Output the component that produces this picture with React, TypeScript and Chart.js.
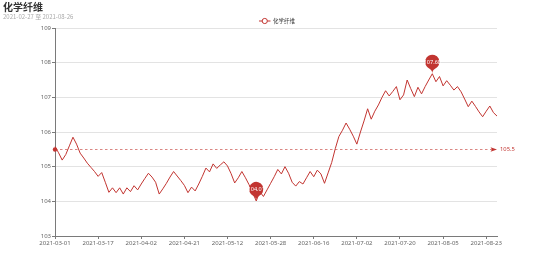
import React, { useEffect, useRef } from 'react';
import { Chart, registerables } from 'chart.js';

Chart.register(...registerables);

const TITLE = '化学纤维';
const SUBTITLE = '2021-02-27 至 2021-08-26';
const SERIES_NAME = '化学纤维';

const dates: string[] = [
  '2021-03-01', '2021-03-02', '2021-03-03', '2021-03-04', '2021-03-05',
  '2021-03-08', '2021-03-09', '2021-03-10', '2021-03-11', '2021-03-12',
  '2021-03-15', '2021-03-16', '2021-03-17', '2021-03-18', '2021-03-19',
  '2021-03-22', '2021-03-23', '2021-03-24', '2021-03-25', '2021-03-26',
  '2021-03-29', '2021-03-30', '2021-03-31', '2021-04-01', '2021-04-02',
  '2021-04-06', '2021-04-07', '2021-04-08', '2021-04-09',
  '2021-04-12', '2021-04-13', '2021-04-14', '2021-04-15', '2021-04-16',
  '2021-04-19', '2021-04-20', '2021-04-21', '2021-04-22', '2021-04-23',
  '2021-04-26', '2021-04-27', '2021-04-28', '2021-04-29', '2021-04-30',
  '2021-05-06', '2021-05-07',
  '2021-05-10', '2021-05-11', '2021-05-12', '2021-05-13', '2021-05-14',
  '2021-05-17', '2021-05-18', '2021-05-19', '2021-05-20', '2021-05-21',
  '2021-05-24', '2021-05-25', '2021-05-26', '2021-05-27', '2021-05-28',
  '2021-05-31', '2021-06-01', '2021-06-02', '2021-06-03', '2021-06-04',
  '2021-06-07', '2021-06-08', '2021-06-09', '2021-06-10', '2021-06-11',
  '2021-06-15', '2021-06-16', '2021-06-17', '2021-06-18',
  '2021-06-21', '2021-06-22', '2021-06-23', '2021-06-24', '2021-06-25',
  '2021-06-28', '2021-06-29', '2021-06-30', '2021-07-01', '2021-07-02',
  '2021-07-05', '2021-07-06', '2021-07-07', '2021-07-08', '2021-07-09',
  '2021-07-12', '2021-07-13', '2021-07-14', '2021-07-15', '2021-07-16',
  '2021-07-19', '2021-07-20', '2021-07-21', '2021-07-22', '2021-07-23',
  '2021-07-26', '2021-07-27', '2021-07-28', '2021-07-29', '2021-07-30',
  '2021-08-02', '2021-08-03', '2021-08-04', '2021-08-05', '2021-08-06',
  '2021-08-09', '2021-08-10', '2021-08-11', '2021-08-12', '2021-08-13',
  '2021-08-16', '2021-08-17', '2021-08-18', '2021-08-19', '2021-08-20',
  '2021-08-23', '2021-08-24', '2021-08-25', '2021-08-26',
];

const values: number[] = [
  105.58, 105.40, 105.19, 105.35, 105.60, 105.85, 105.65, 105.39, 105.25, 105.10,
  104.98, 104.86, 104.72, 104.83, 104.55, 104.26, 104.39, 104.25, 104.39, 104.21,
  104.39, 104.28, 104.45, 104.33, 104.50, 104.66, 104.81, 104.70, 104.55, 104.21,
  104.36, 104.52, 104.70, 104.86, 104.73, 104.60, 104.46, 104.25, 104.41, 104.30,
  104.50, 104.72, 104.96, 104.85, 105.08, 104.95, 105.05, 105.14, 105.02, 104.80,
  104.53, 104.68, 104.86, 104.68, 104.48, 104.25, 104.01, 104.28, 104.14, 104.33,
  104.52, 104.71, 104.92, 104.79, 105.00, 104.81, 104.55, 104.44, 104.57, 104.50,
  104.68, 104.86, 104.71, 104.90, 104.79, 104.52, 104.82, 105.12, 105.52, 105.87,
  106.05, 106.26, 106.08, 105.88, 105.65, 106.00, 106.32, 106.67, 106.37, 106.60,
  106.78, 107.00, 107.19, 107.04, 107.17, 107.31, 106.93, 107.07, 107.50, 107.25,
  107.02, 107.29, 107.10, 107.31, 107.50, 107.68, 107.45, 107.60, 107.33, 107.48,
  107.35, 107.21, 107.31, 107.16, 106.95, 106.73, 106.89, 106.74, 106.58, 106.44,
  106.60, 106.75, 106.56, 106.46,
];

const Y_MIN = 103;
const Y_MAX = 109;
const Y_STEP = 1;
const LABEL_EVERY = 12;

const RED = '#c23531';
const AXIS = '#7a7a7a';
const GRID = '#e3e3e3';
const LABEL = '#666666';
const FAMILY = '"Noto Sans", "Noto Sans CJK SC", sans-serif';
const CJK = '"Noto Sans CJK SC", "Noto Sans", sans-serif';

function drawPin(ctx: CanvasRenderingContext2D, x: number, tipY: number, r: number, h: number) {
  const dy = (r * r) / (h - r);
  const cy = tipY - h + r + dy;
  const angle = Math.asin(dy / r);
  const dx = Math.cos(angle) * r;
  const tanX = Math.sin(angle);
  const tanY = Math.cos(angle);
  const cpLen = r * 0.6;
  const cpLen2 = r * 0.7;
  ctx.beginPath();
  ctx.moveTo(x - dx, cy + dy);
  ctx.arc(x, cy, r, Math.PI - angle, Math.PI * 2 + angle);
  ctx.bezierCurveTo(x + dx - tanX * cpLen, cy + dy + tanY * cpLen, x, tipY - cpLen2, x, tipY);
  ctx.bezierCurveTo(x, tipY - cpLen2, x - dx + tanX * cpLen, cy + dy + tanY * cpLen, x - dx, cy + dy);
  ctx.closePath();
  ctx.fill();
}

const decor = {
  id: 'decor',
  afterDatasetsDraw(chart: any) {
    const { ctx, chartArea } = chart;
    const xs = chart.scales.x;
    const ys = chart.scales.y;
    const avg = values.reduce((a, b) => a + b, 0) / values.length;
    const yy = Math.round(ys.getPixelForValue(avg)) + 0.5;
    ctx.save();
    // average mark line
    ctx.strokeStyle = RED;
    ctx.globalAlpha = 0.6;
    ctx.lineWidth = 1;
    ctx.setLineDash([2.5, 2.5]);
    ctx.beginPath();
    ctx.moveTo(chartArea.left, yy);
    ctx.lineTo(chartArea.right - 4, yy);
    ctx.stroke();
    ctx.setLineDash([]);
    ctx.globalAlpha = 1;
    ctx.fillStyle = RED;
    ctx.beginPath();
    ctx.arc(chartArea.left, yy, 2.2, 0, Math.PI * 2);
    ctx.fill();
    const tip = chartArea.right;
    ctx.beginPath();
    ctx.moveTo(tip, yy);
    ctx.lineTo(tip - 6.5, yy - 2.3);
    ctx.lineTo(tip - 5, yy);
    ctx.lineTo(tip - 6.5, yy + 2.3);
    ctx.closePath();
    ctx.fill();
    ctx.font = `5.8px ${FAMILY}`;
    ctx.textAlign = 'left';
    ctx.textBaseline = 'middle';
    ctx.fillText(avg.toFixed(1), tip + 3, yy);

    // max / min pins
    let maxI = 0;
    let minI = 0;
    values.forEach((v, i) => {
      if (v > values[maxI]) maxI = i;
      if (v < values[minI]) minI = i;
    });
    [maxI, minI].forEach((i) => {
      const px = xs.getPixelForValue(i);
      const py = ys.getPixelForValue(values[i]);
      ctx.fillStyle = RED;
      drawPin(ctx, px, py, 7.2, 22.5);
      ctx.fillStyle = '#fff';
      ctx.font = `5.5px ${FAMILY}`;
      ctx.textAlign = 'center';
      ctx.textBaseline = 'middle';
      ctx.fillText(values[i].toFixed(2), px, py - 11.5);
    });
    ctx.restore();
  },
  afterDraw(chart: any) {
    const { ctx } = chart;
    ctx.save();
    // title
    ctx.fillStyle = '#333';
    ctx.font = `bold 10px ${CJK}`;
    ctx.textAlign = 'left';
    ctx.textBaseline = 'middle';
    ctx.fillText(TITLE, 3, 7);
    // subtitle
    ctx.fillStyle = '#aaa';
    ctx.font = `6px ${CJK}`;
    ctx.fillText(SUBTITLE, 3, 16.7);
    // legend
    ctx.font = `5.5px ${CJK}`;
    const tw = ctx.measureText(SERIES_NAME).width;
    const iconW = 11.5;
    const gap = 2.5;
    const total = iconW + gap + tw;
    const x0 = chart.width / 2 - total / 2;
    const ly = 21;
    ctx.strokeStyle = RED;
    ctx.lineWidth = 1;
    ctx.beginPath();
    ctx.moveTo(x0, ly);
    ctx.lineTo(x0 + iconW, ly);
    ctx.stroke();
    ctx.fillStyle = '#fff';
    ctx.beginPath();
    ctx.arc(x0 + iconW / 2, ly, 2.6, 0, Math.PI * 2);
    ctx.fill();
    ctx.stroke();
    ctx.fillStyle = '#333';
    ctx.fillText(SERIES_NAME, x0 + iconW + gap, ly);
    ctx.restore();
  },
};

export default function App() {
  const ref = useRef<HTMLCanvasElement>(null);
  useEffect(() => {
    document.body.style.margin = '0';
    const chart = new Chart(ref.current as HTMLCanvasElement, {
      type: 'line',
      data: {
        labels: dates,
        datasets: [
          {
            label: SERIES_NAME,
            data: values,
            borderColor: RED,
            backgroundColor: RED,
            borderWidth: 1,
            pointRadius: 0,
            pointHoverRadius: 0,
            fill: false,
            tension: 0,
          },
        ],
      },
      options: {
        animation: false,
        responsive: false,
        maintainAspectRatio: false,
        devicePixelRatio: 1,
        layout: { padding: { left: 0, right: 57, top: 28, bottom: 0 } },
        plugins: {
          legend: { display: false },
          title: { display: false },
          tooltip: { enabled: false },
        },
        scales: {
          x: {
            type: 'category',
            offset: false,
            grid: {
              display: true,
              drawOnChartArea: false,
              drawTicks: true,
              tickLength: 3,
              tickColor: AXIS,
              tickWidth: 1,
            },
            border: { display: true, color: AXIS, width: 1 },
            ticks: {
              autoSkip: false,
              maxRotation: 0,
              minRotation: 0,
              padding: 1,
              color: LABEL,
              font: { size: 6, family: FAMILY },
            },
            afterBuildTicks: (s: any) => {
              s.ticks = s.ticks.filter((t: any) => t.value % LABEL_EVERY === 0);
            },
            afterFit: (s: any) => {
              s.height = 29;
            },
          },
          y: {
            min: Y_MIN,
            max: Y_MAX,
            ticks: {
              stepSize: Y_STEP,
              padding: 1,
              color: LABEL,
              font: { size: 6, family: FAMILY },
            },
            grid: { color: GRID, tickColor: AXIS, tickLength: 3, lineWidth: 1 },
            border: { display: true, color: AXIS, width: 1 },
            afterFit: (s: any) => {
              s.width = 55;
            },
          },
        },
      } as any,
      plugins: [decor],
    });
    return () => chart.destroy();
  }, []);
  return (
    <div style={{ width: 554, height: 265 }}>
      <canvas ref={ref} width={554} height={265} style={{ display: 'block' }} />
    </div>
  );
}
